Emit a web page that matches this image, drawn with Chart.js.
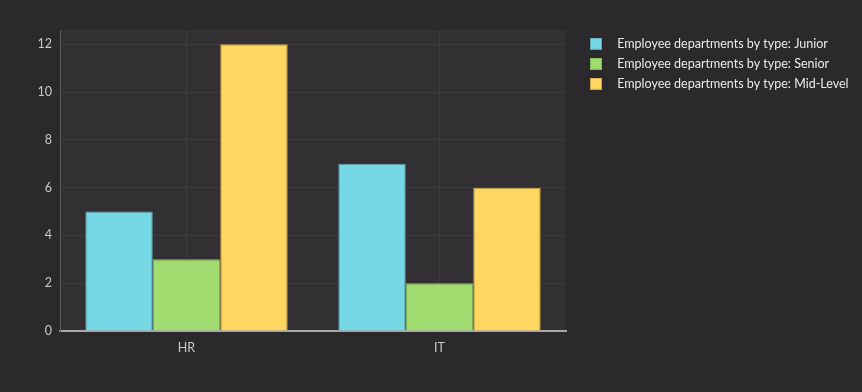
<!DOCTYPE html>
<html>
<head>
<meta charset="utf-8">
<script src="https://cdn.jsdelivr.net/npm/chart.js@4/dist/chart.umd.min.js"></script>
<style>
    html, body { margin: 0; padding: 0; background: #2b292c; }
    #wrap { width: 862px; height: 392px; }
</style>
</head>
<body>
<div id="wrap"><canvas id="deptChart"></canvas></div>
<script>
var departments = ['HR', 'IT'];
var juniorCounts = [5, 7];
var seniorCounts = [3, 2];
var midLevelCounts = [12, 6];
var yTickValues = [0, 2, 4, 6, 8, 10, 12];

var fillColors = ['#76d8e5', '#a0dc6f', '#ffd65f'];
var edgeColors = ['#5fa7b1', '#86b95d', '#cfaa4a'];

// little coloured squares used as legend swatches
function makeSwatch(fill, edge) {
    var c = document.createElement('canvas');
    c.width = 12;
    c.height = 12;
    var g = c.getContext('2d');
    g.fillStyle = fill;
    g.fillRect(0, 0, 12, 12);
    g.strokeStyle = edge;
    g.lineWidth = 1;
    g.strokeRect(0.5, 0.5, 11, 11);
    return c;
}
var swatches = fillColors.map(function (f, i) { return makeSwatch(f, edgeColors[i]); });

var plotBackground = {
    id: 'plotBackground',
    beforeDraw: function (chart) {
        var ctx = chart.ctx;
        var area = chart.chartArea;
        ctx.save();
        ctx.fillStyle = '#323033';
        ctx.fillRect(area.left, area.top, area.right - area.left, area.bottom - area.top);
        ctx.restore();
    }
};

Chart.defaults.font.family = 'Lato, "Open Sans", sans-serif';
Chart.defaults.font.size = 12.5;
Chart.defaults.color = '#c9c7ca';

var deptContext = document.getElementById('deptChart').getContext('2d');
var deptChart = new Chart(deptContext, {
    type: 'bar',
    data: {
        labels: departments,
        datasets: [{
            label: 'Employee departments by type: Junior',
            backgroundColor: fillColors[0],
            borderColor: edgeColors[0],
            borderWidth: 1,
            data: juniorCounts
        },
        {
            label: 'Employee departments by type: Senior',
            backgroundColor: fillColors[1],
            borderColor: edgeColors[1],
            borderWidth: 1,
            data: seniorCounts
        },
        {
            label: 'Employee departments by type: Mid-Level',
            backgroundColor: fillColors[2],
            borderColor: edgeColors[2],
            borderWidth: 1,
            data: midLevelCounts
        }]
    },
    plugins: [plotBackground],
    options: {
        responsive: true,
        maintainAspectRatio: false,
        animation: false,
        layout: { padding: { top: 30, left: 0, bottom: 0, right: 6.5 } },
        categoryPercentage: 0.8,
        barPercentage: 1.0,
        plugins: {
            legend: {
                position: 'right',
                align: 'start',
                maxWidth: 282,
                labels: {
                    usePointStyle: true,
                    pointStyleWidth: 30,
                    padding: 7.5,
                    color: '#ebe9ec',
                    generateLabels: function (chart) {
                        var items = Chart.defaults.plugins.legend.labels.generateLabels(chart);
                        items.forEach(function (item, i) { item.pointStyle = swatches[i]; });
                        return items;
                    }
                }
            },
            tooltip: { enabled: false }
        },
        scales: {
            x: {
                grid: { offset: false, color: '#3d3b3e', drawTicks: false },
                border: { color: '#a8a6a9', width: 2 },
                ticks: { padding: 9 },
                afterFit: function (scale) { scale.height = 61; }
            },
            y: {
                min: 0,
                max: 12.6,
                grid: { color: '#3d3b3e', drawTicks: false },
                border: { color: '#5c5a5d' },
                ticks: { stepSize: 2, padding: 8 },
                afterBuildTicks: function (scale) {
                    scale.ticks = yTickValues.map(function (v) { return { value: v }; });
                },
                afterFit: function (scale) { scale.width = 60; }
            },
            gap: {
                type: 'linear',
                position: 'right',
                grid: { display: false },
                border: { display: false },
                ticks: { display: false },
                afterFit: function (scale) { scale.width = 7.5; }
            }
        }
    }
});
</script>
</body>
</html>
